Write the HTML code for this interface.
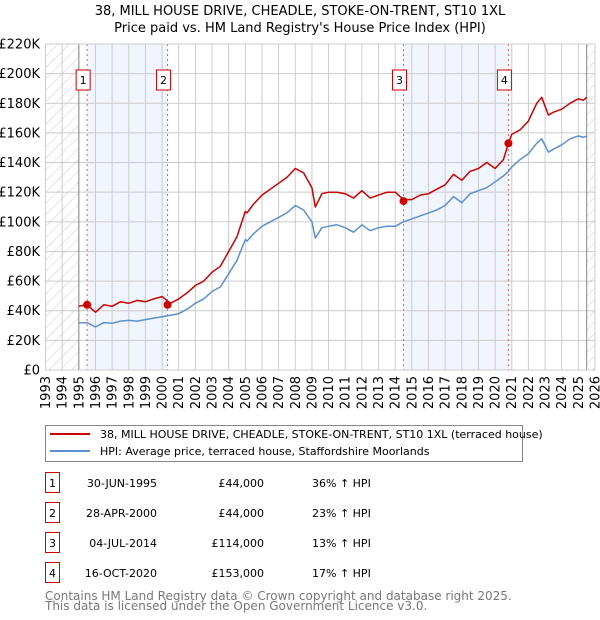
<!DOCTYPE html>
<html><head><meta charset="utf-8">
<style>
body{margin:0;background:#fff;font-family:"DejaVu Sans","Liberation Sans",sans-serif;}
svg{display:block}
</style></head>
<body>
<svg id="c" width="600" height="620" xmlns="http://www.w3.org/2000/svg" font-family="DejaVu Sans, Liberation Sans, sans-serif">
<defs>
<pattern id="hatch" patternUnits="userSpaceOnUse" width="8" height="8" patternTransform="rotate(45)">
<line x1="0" y1="0" x2="0" y2="8" stroke="#ccc" stroke-width="1"/>
</pattern>
</defs>
<text x="300" y="15" text-anchor="middle" font-size="13">38, MILL HOUSE DRIVE, CHEADLE, STOKE-ON-TRENT, ST10 1XL</text>
<text x="300" y="32" text-anchor="middle" font-size="13">Price paid vs. HM Land Registry's House Price Index (HPI)</text>
<g id="plot"></g>
<g>
<rect x="45.5" y="425.5" width="477" height="36" fill="#fff" stroke="#888"/>
<line x1="50" y1="434" x2="90" y2="434" stroke="#cc0000" stroke-width="2"/>
<text x="100" y="438" font-size="11">38, MILL HOUSE DRIVE, CHEADLE, STOKE-ON-TRENT, ST10 1XL (terraced house)</text>
<line x1="50" y1="451" x2="90" y2="451" stroke="#5b8fd0" stroke-width="2"/>
<text x="100" y="455" font-size="11">HPI: Average price, terraced house, Staffordshire Moorlands</text>
</g>
<g id="table" font-size="11"></g>
<text x="45" y="600" font-size="12" fill="#777">Contains HM Land Registry data © Crown copyright and database right 2025.</text>
<text x="45" y="610" font-size="12" fill="#777">This data is licensed under the Open Government Licence v3.0.</text>
</svg>
<script>
const hpiYears=[1995.0,1995.5,1996.0,1996.5,1997.0,1997.5,1998.0,1998.5,1999.0,1999.5,2000.0,2000.5,2001.0,2001.5,2002.0,2002.5,2003.0,2003.5,2004.0,2004.5,2005.0,2005.1,2005.5,2006.0,2006.5,2007.0,2007.5,2008.0,2008.5,2009.0,2009.2,2009.6,2010.0,2010.5,2011.0,2011.5,2012.0,2012.5,2013.0,2013.5,2014.0,2014.5,2015.0,2015.5,2016.0,2016.5,2017.0,2017.5,2018.0,2018.5,2019.0,2019.5,2020.0,2020.5,2020.8,2021.0,2021.5,2022.0,2022.5,2022.8,2023.2,2023.5,2024.0,2024.5,2025.0,2025.3,2025.5];
const hpiValues=[31.7,32,29,32,31.5,33,33.5,33,34,35,36,37,38,41,45,48,53,56,65,74,88,87,92,97,100,103,106,111,108,100,89,96,97,98,96,93,98,94,96,97,97,100,102,104,106,108,111,117,113,119,121,123,127,131,134,137,142,146,153,156,147,149,152,156,158,157,158];
const priceValues=[43,44,39,44,43,46,45,47,46,48,49.5,45,48,52,57,60,66,70,80,90,107,106,112,118,122,126,130,136,133,123,110,119,120,120,119,116,121,116,118,120,120,115,115,118,119,122,125,132,128,134,136,140,136,142,153,159,162,168,180,184,172,174,176,180,183,182,184];
const saleYears=[1995.5,2000.33,2014.5,2020.8];
const salePrices=[44,44,114,153];
const saleLabels=["1","2","3","4"];
const saleDates=["30-JUN-1995","28-APR-2000","04-JUL-2014","16-OCT-2020"];
const salePriceText=["£44,000","£44,000","£114,000","£153,000"];
const saleHpiText=["36% ↑ HPI","23% ↑ HPI","13% ↑ HPI","17% ↑ HPI"];
const yTicks=[0,20,40,60,80,100,120,140,160,180,200,220];
const xTicks=[1993,1994,1995,1996,1997,1998,1999,2000,2001,2002,2003,2004,2005,2006,2007,2008,2009,2010,2011,2012,2013,2014,2015,2016,2017,2018,2019,2020,2021,2022,2023,2024,2025,2026];

const NS="http://www.w3.org/2000/svg";
const X0=45.5,X1=595,Y0=370,Y1=44;
const xs=y=>X0+(y-1993)/33*(X1-X0);
const ys=v=>Y0-v/220*(Y0-Y1);
const plot=document.getElementById('plot');
function mk(tag,attrs,parent){const e=document.createElementNS(NS,tag);for(const k in attrs)e.setAttribute(k,attrs[k]);(parent||plot).appendChild(e);return e;}

let bg=mk('rect',{x:X0,y:Y1,width:X1-X0,height:Y0-Y1,fill:'#fff'});


let h1=mk('rect',{x:X0,y:Y1,width:xs(1995)-X0,height:Y0-Y1,fill:'url(#hatch)'});


let h2=mk('rect',{x:xs(2025.5),y:Y1,width:X1-xs(2025.5),height:Y0-Y1,fill:'url(#hatch)'});


[[0,1],[2,3]].forEach(p=>{
  let r=mk('rect',{x:xs(saleYears[p[0]]),y:Y1,width:xs(saleYears[p[1]])-xs(saleYears[p[0]]),height:Y0-Y1,fill:'#eef3fc',opacity:0.8});
  
  
});
yTicks.forEach(v=>{
  let l=mk('line',{x1:X0,x2:X1,y1:ys(v),y2:ys(v),stroke:'#ccc','stroke-width':1});
  
  
  let t=mk('text',{x:40,y:ys(v)+4.5,'text-anchor':'end','font-size':13});
  t.textContent='£'+(v===0?'0':v+'K');
  
  
});
xTicks.forEach(y=>{
  let l=mk('line',{x1:xs(y),x2:xs(y),y1:Y1,y2:Y0,stroke:'#ccc','stroke-width':1});
  
  
  let t=mk('text',{x:xs(y)+4.5,y:Y0+6,'text-anchor':'end','font-size':13,transform:`rotate(-90 ${xs(y)+4.5} ${Y0+6})`});
  t.textContent=y;
  
  
});
[1995,2025.5].forEach(y=>{let l=mk('line',{x1:xs(y),x2:xs(y),y1:Y1,y2:Y0,stroke:'#888','stroke-width':1});
  
  });
saleYears.forEach((y,i)=>{
  let l=mk('line',{x1:xs(y),x2:xs(y),y1:Y1,y2:Y0,stroke:'#e06060','stroke-width':1,'stroke-dasharray':'2,3'});
  
  
  let g=mk('g',{});
  
  
  mk('rect',{x:xs(y)-11,y:70,width:14,height:20,fill:'#fff',stroke:'#cc0000'},g);
  let t=mk('text',{x:xs(y)-4,y:84,'text-anchor':'middle','font-size':11},g);t.textContent=saleLabels[i];
});
function path(vals,color,name){
  let d=hpiYears.map((y,i)=>(i?'L':'M')+xs(y).toFixed(1)+','+ys(vals[i]).toFixed(1)).join('');
  let p=mk('path',{d:d,fill:'none',stroke:color,'stroke-width':1.5,'stroke-linejoin':'round'});
  
  
}
path(hpiValues,'#5b8fd0','hpi-line');
path(priceValues,'#cc0000','price-paid-line');
saleYears.forEach((y,i)=>{
  let c=mk('circle',{cx:xs(y),cy:ys(salePrices[i]),r:4,fill:'#cc0000'});
  
  
});
mk('rect',{x:X0,y:Y1,width:X1-X0,height:Y0-Y1,fill:'none',stroke:'#ccc'});

const tb=document.getElementById('table');
saleLabels.forEach((lab,i)=>{
  const cy=483+i*30;
  let g=mk('g',{},tb);
  
  
  mk('rect',{x:45.5,y:cy-10.5,width:14,height:20,fill:'#fff',stroke:'#cc0000'},g);
  let t=mk('text',{x:52.5,y:cy+4,'text-anchor':'middle'},g);t.textContent=lab;
  t=mk('text',{x:157,y:cy+4,'text-anchor':'end'},g);t.textContent=saleDates[i];
  t=mk('text',{x:264,y:cy+4,'text-anchor':'end'},g);t.textContent=salePriceText[i];
  t=mk('text',{x:312,y:cy+4},g);t.textContent=saleHpiText[i];
});
</script>
</body></html>
